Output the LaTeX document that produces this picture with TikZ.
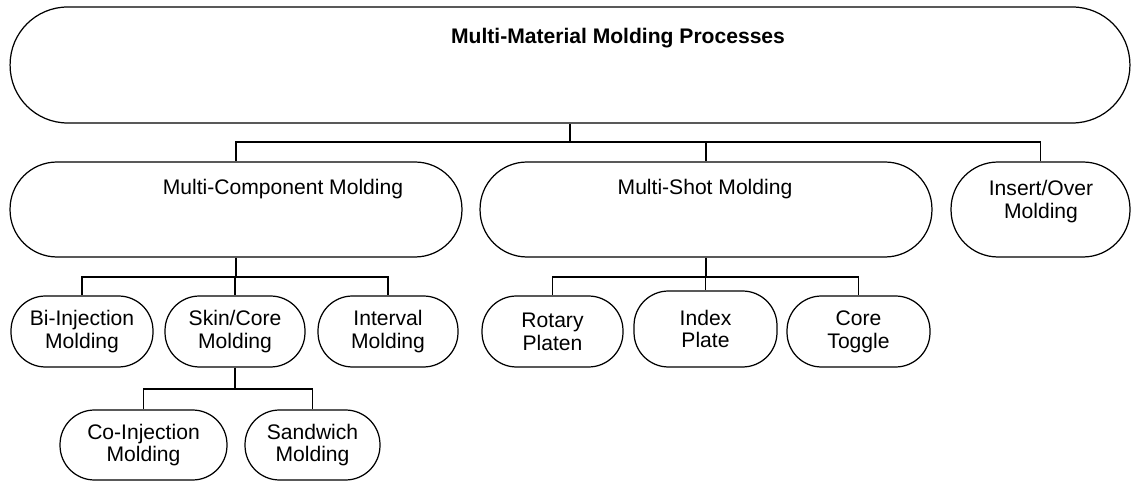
\documentclass[tikz,border=0pt]{standalone}
\usepackage{fontspec}
\setmainfont{Liberation Sans}
\begin{document}
\begin{tikzpicture}[x=0.02cm,y=-0.02cm]
\tikzstyle{lien}=[line width=0.7pt]
\tikzset{boite/.style={draw,line width=0.7pt,inner sep=0pt,align=center,
  font=\fontsize{12}{13}\selectfont,rounded corners=#1},
boite/.default={0.69cm},
titre/.style={align=center,inner sep=0pt,font=\fontsize{12}{13}\selectfont}}
\useasboundingbox (0,0) rectangle (1135,482);

% niveau 0
\node[boite=1.15cm,minimum width=22.4cm,minimum height=2.32cm] (A) at (570,65) {};
\node[titre,font=\fontsize{12}{13}\selectfont\bfseries] (At) at (618,38) {Multi-Material Molding Processes};

% niveau 1
\node[boite=0.94cm,minimum width=9.04cm,minimum height=1.9cm] (A1) at (236,209.5) {};
\node[boite=0.94cm,minimum width=9.04cm,minimum height=1.9cm] (A2) at (706,209.5) {};
\node[boite=0.94cm,minimum width=3.58cm,minimum height=1.9cm] (A3) at (1040.5,209.5) {};
\node[titre] (A1t) at (283,189) {Multi-Component Molding};
\node[titre] (A2t) at (705,189) {Multi-Shot Molding};
\node[titre] (A3t) at (1041,201.5) {Insert/Over\\Molding};

% niveau 2
\node[boite,minimum width=2.84cm,minimum height=1.42cm] (A11) at (82,331.5) {Bi-Injection\\Molding};
\node[boite,minimum width=2.8cm,minimum height=1.42cm] (A12) at (235,331.5) {Skin/Core\\Molding};
\node[boite,minimum width=2.8cm,minimum height=1.42cm] (A13) at (388,331.5) {Interval\\Molding};
\node[boite,minimum width=2.82cm,minimum height=1.42cm] (A21) at (552.5,331.5) {Rotary\\Platen};
\node[boite,minimum width=2.86cm,minimum height=1.52cm] (A22) at (705.5,329) {Index\\Plate};
\node[boite,minimum width=2.86cm,minimum height=1.42cm] (A23) at (858.5,331.5) {Core\\Toggle};

% niveau 3
\node[boite,minimum width=3.34cm,minimum height=1.4cm] (A121) at (143.5,445) {Co-Injection\\Molding};
\node[boite,minimum width=2.7cm,minimum height=1.4cm] (A122) at (312.5,445) {Sandwich\\Molding};

% liaisons
\coordinate (B) at (570,142);
\coordinate (B1) at (236,277);
\coordinate (B2) at (706,277);
\coordinate (B12) at (235,389);

\draw[lien] (A.south) -- (B) -| (A1.north);
\draw[lien] (B) -| (A2.north);
\draw[lien] (B) -| (A3.north);

\draw[lien] (A1.south) -- (B1) -| (A11.north);
\draw[lien] (B1) -| (A12.north);
\draw[lien] (B1) -| (A13.north);

\draw[lien] (A2.south) -- (B2) -| (A21.north);
\draw[lien] (B2) -| (A22.north);
\draw[lien] (B2) -| (A23.north);

\draw[lien] (A12.south) -- (B12) -| (A121.north);
\draw[lien] (B12) -| (A122.north);

\end{tikzpicture}
\end{document}
